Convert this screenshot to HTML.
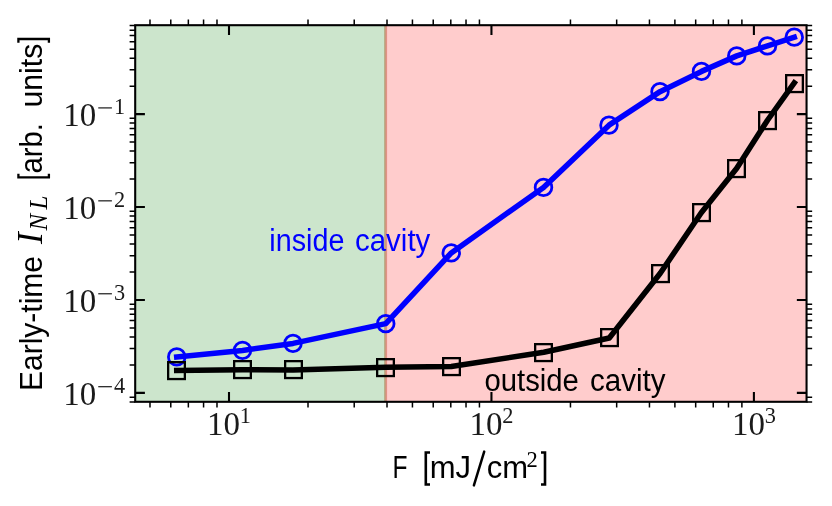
<!DOCTYPE html>
<html><head><meta charset="utf-8"><title>chart</title>
<style>html,body{margin:0;padding:0;background:#fff;overflow:hidden}svg{display:block;will-change:transform}text{font-family:"Liberation Sans",sans-serif}.se{font-family:"Liberation Serif",serif}</style></head>
<body>
<svg width="832" height="506" viewBox="0 0 832 506">
<rect x="0" y="0" width="832" height="506" fill="#ffffff"/>
<rect x="135.2" y="25.2" width="250.30" height="376.60" fill="#cce5cc"/>
<rect x="385.5" y="25.2" width="421.05" height="376.60" fill="#ffcccc"/>
<rect x="384" y="25.2" width="1" height="376.60" fill="#baae8a"/>
<rect x="385" y="25.2" width="1" height="376.60" fill="#cb997e"/>
<rect x="386" y="25.2" width="1" height="376.60" fill="#e09285"/>
<rect x="387" y="25.2" width="1" height="376.60" fill="#fcc6c6"/>
<polyline points="176.75,356.9 242.5,350.4 293,343.4 385.75,323.65 451.25,252.9 543.5,187.4 609,125.15 660,91.65 701.5,71.4 736.75,55.9 767.5,45.9 794.25,37.15" fill="none" stroke="#0000ff" stroke-width="5.56" stroke-linecap="square" stroke-linejoin="round"/>
<circle cx="176.75" cy="356.9" r="8.33" fill="none" stroke="#0000ff" stroke-width="2.78"/>
<circle cx="242.5" cy="350.4" r="8.33" fill="none" stroke="#0000ff" stroke-width="2.78"/>
<circle cx="293" cy="343.4" r="8.33" fill="none" stroke="#0000ff" stroke-width="2.78"/>
<circle cx="385.75" cy="323.65" r="8.33" fill="none" stroke="#0000ff" stroke-width="2.78"/>
<circle cx="451.25" cy="252.9" r="8.33" fill="none" stroke="#0000ff" stroke-width="2.78"/>
<circle cx="543.5" cy="187.4" r="8.33" fill="none" stroke="#0000ff" stroke-width="2.78"/>
<circle cx="609" cy="125.15" r="8.33" fill="none" stroke="#0000ff" stroke-width="2.78"/>
<circle cx="660" cy="91.65" r="8.33" fill="none" stroke="#0000ff" stroke-width="2.78"/>
<circle cx="701.5" cy="71.4" r="8.33" fill="none" stroke="#0000ff" stroke-width="2.78"/>
<circle cx="736.75" cy="55.9" r="8.33" fill="none" stroke="#0000ff" stroke-width="2.78"/>
<circle cx="767.5" cy="45.9" r="8.33" fill="none" stroke="#0000ff" stroke-width="2.78"/>
<circle cx="794.25" cy="37.15" r="8.33" fill="none" stroke="#0000ff" stroke-width="2.78"/>
<polyline points="176.75,370.45 242.5,369.75 293,370.0 385.75,367.25 451.25,366.5 543.75,352.25 609.25,338.0 660.25,273.25 701.25,212.75 736.75,168.25 767.5,120.25 794.25,83.0" fill="none" stroke="#000000" stroke-width="5.56" stroke-linecap="square" stroke-linejoin="round"/>
<rect x="168.15" y="362.15" width="16.7" height="16.9" fill="none" stroke="#000" stroke-width="2.3"/>
<rect x="234.15" y="361.15" width="16.7" height="16.9" fill="none" stroke="#000" stroke-width="2.3"/>
<rect x="285.15" y="361.15" width="16.7" height="16.9" fill="none" stroke="#000" stroke-width="2.3"/>
<rect x="377.15" y="359.15" width="16.7" height="16.9" fill="none" stroke="#000" stroke-width="2.3"/>
<rect x="443.15" y="358.15" width="16.7" height="16.9" fill="none" stroke="#000" stroke-width="2.3"/>
<rect x="535.15" y="344.15" width="16.7" height="16.9" fill="none" stroke="#000" stroke-width="2.3"/>
<rect x="601.15" y="329.15" width="16.7" height="16.9" fill="none" stroke="#000" stroke-width="2.3"/>
<rect x="652.15" y="265.15" width="16.7" height="16.9" fill="none" stroke="#000" stroke-width="2.3"/>
<rect x="693.15" y="204.15" width="16.7" height="16.9" fill="none" stroke="#000" stroke-width="2.3"/>
<rect x="728.15" y="160.15" width="16.7" height="16.9" fill="none" stroke="#000" stroke-width="2.3"/>
<rect x="759.15" y="112.15" width="16.7" height="16.9" fill="none" stroke="#000" stroke-width="2.3"/>
<rect x="786.15" y="75.15" width="16.7" height="16.9" fill="none" stroke="#000" stroke-width="2.3"/>
<g stroke="#000" fill="none"><path d="M229.00 401.8V392.10M229.00 25.2V34.90" stroke-width="2.08"/><path d="M491.45 401.8V392.10M491.45 25.2V34.90" stroke-width="2.08"/><path d="M753.90 401.8V392.10M753.90 25.2V34.90" stroke-width="2.08"/><path d="M149.99 401.8V407.40M149.99 25.2V19.60" stroke-width="1.5"/><path d="M170.78 401.8V407.40M170.78 25.2V19.60" stroke-width="1.5"/><path d="M188.35 401.8V407.40M188.35 25.2V19.60" stroke-width="1.5"/><path d="M203.57 401.8V407.40M203.57 25.2V19.60" stroke-width="1.5"/><path d="M216.99 401.8V407.40M216.99 25.2V19.60" stroke-width="1.5"/><path d="M308.01 401.8V407.40M308.01 25.2V19.60" stroke-width="1.5"/><path d="M354.22 401.8V407.40M354.22 25.2V19.60" stroke-width="1.5"/><path d="M387.01 401.8V407.40M387.01 25.2V19.60" stroke-width="1.5"/><path d="M412.44 401.8V407.40M412.44 25.2V19.60" stroke-width="1.5"/><path d="M433.23 401.8V407.40M433.23 25.2V19.60" stroke-width="1.5"/><path d="M450.80 401.8V407.40M450.80 25.2V19.60" stroke-width="1.5"/><path d="M466.02 401.8V407.40M466.02 25.2V19.60" stroke-width="1.5"/><path d="M479.44 401.8V407.40M479.44 25.2V19.60" stroke-width="1.5"/><path d="M570.46 401.8V407.40M570.46 25.2V19.60" stroke-width="1.5"/><path d="M616.67 401.8V407.40M616.67 25.2V19.60" stroke-width="1.5"/><path d="M649.46 401.8V407.40M649.46 25.2V19.60" stroke-width="1.5"/><path d="M674.89 401.8V407.40M674.89 25.2V19.60" stroke-width="1.5"/><path d="M695.68 401.8V407.40M695.68 25.2V19.60" stroke-width="1.5"/><path d="M713.25 401.8V407.40M713.25 25.2V19.60" stroke-width="1.5"/><path d="M728.47 401.8V407.40M728.47 25.2V19.60" stroke-width="1.5"/><path d="M741.89 401.8V407.40M741.89 25.2V19.60" stroke-width="1.5"/><path d="M135.2 114.11H144.90M806.55 114.11H796.85" stroke-width="2.08"/><path d="M135.2 207.04H144.90M806.55 207.04H796.85" stroke-width="2.08"/><path d="M135.2 299.97H144.90M806.55 299.97H796.85" stroke-width="2.08"/><path d="M135.2 392.90H144.90M806.55 392.90H796.85" stroke-width="2.08"/><path d="M135.2 401.91H129.60M806.55 401.91H812.15" stroke-width="1.5"/><path d="M135.2 397.15H129.60M806.55 397.15H812.15" stroke-width="1.5"/><path d="M135.2 364.93H129.60M806.55 364.93H812.15" stroke-width="1.5"/><path d="M135.2 348.56H129.60M806.55 348.56H812.15" stroke-width="1.5"/><path d="M135.2 336.95H129.60M806.55 336.95H812.15" stroke-width="1.5"/><path d="M135.2 327.94H129.60M806.55 327.94H812.15" stroke-width="1.5"/><path d="M135.2 320.59H129.60M806.55 320.59H812.15" stroke-width="1.5"/><path d="M135.2 314.37H129.60M806.55 314.37H812.15" stroke-width="1.5"/><path d="M135.2 308.98H129.60M806.55 308.98H812.15" stroke-width="1.5"/><path d="M135.2 304.22H129.60M806.55 304.22H812.15" stroke-width="1.5"/><path d="M135.2 272.00H129.60M806.55 272.00H812.15" stroke-width="1.5"/><path d="M135.2 255.63H129.60M806.55 255.63H812.15" stroke-width="1.5"/><path d="M135.2 244.02H129.60M806.55 244.02H812.15" stroke-width="1.5"/><path d="M135.2 235.01H129.60M806.55 235.01H812.15" stroke-width="1.5"/><path d="M135.2 227.66H129.60M806.55 227.66H812.15" stroke-width="1.5"/><path d="M135.2 221.44H129.60M806.55 221.44H812.15" stroke-width="1.5"/><path d="M135.2 216.05H129.60M806.55 216.05H812.15" stroke-width="1.5"/><path d="M135.2 211.29H129.60M806.55 211.29H812.15" stroke-width="1.5"/><path d="M135.2 179.07H129.60M806.55 179.07H812.15" stroke-width="1.5"/><path d="M135.2 162.70H129.60M806.55 162.70H812.15" stroke-width="1.5"/><path d="M135.2 151.09H129.60M806.55 151.09H812.15" stroke-width="1.5"/><path d="M135.2 142.08H129.60M806.55 142.08H812.15" stroke-width="1.5"/><path d="M135.2 134.73H129.60M806.55 134.73H812.15" stroke-width="1.5"/><path d="M135.2 128.51H129.60M806.55 128.51H812.15" stroke-width="1.5"/><path d="M135.2 123.12H129.60M806.55 123.12H812.15" stroke-width="1.5"/><path d="M135.2 118.36H129.60M806.55 118.36H812.15" stroke-width="1.5"/><path d="M135.2 86.14H129.60M806.55 86.14H812.15" stroke-width="1.5"/><path d="M135.2 69.77H129.60M806.55 69.77H812.15" stroke-width="1.5"/><path d="M135.2 58.16H129.60M806.55 58.16H812.15" stroke-width="1.5"/><path d="M135.2 49.15H129.60M806.55 49.15H812.15" stroke-width="1.5"/><path d="M135.2 41.80H129.60M806.55 41.80H812.15" stroke-width="1.5"/><path d="M135.2 35.58H129.60M806.55 35.58H812.15" stroke-width="1.5"/><path d="M135.2 30.19H129.60M806.55 30.19H812.15" stroke-width="1.5"/><path d="M135.2 25.43H129.60M806.55 25.43H812.15" stroke-width="1.5"/></g>
<rect x="135.2" y="25.2" width="671.35" height="376.60" fill="none" stroke="#000" stroke-width="2.08" stroke-linejoin="miter"/>
<text x="269.3" y="250.75" font-size="31" fill="#0000ff" textLength="75.1" lengthAdjust="spacingAndGlyphs">inside</text>
<text x="355.0" y="250.75" font-size="31" fill="#0000ff" textLength="75.3" lengthAdjust="spacingAndGlyphs">cavity</text>
<text x="484.5" y="390.5" font-size="31" fill="#000" textLength="94.3" lengthAdjust="spacingAndGlyphs">outside</text>
<text x="590.0" y="390.5" font-size="31" fill="#000" textLength="75.5" lengthAdjust="spacingAndGlyphs">cavity</text>
<text class="se" x="207.10" y="435.25" font-size="33" fill="#1a1a1a">10</text>
<text class="se" x="239.80" y="422.75" font-size="22.3" fill="#1a1a1a">1</text>
<text class="se" x="469.55" y="435.25" font-size="33" fill="#1a1a1a">10</text>
<text class="se" x="502.25" y="422.75" font-size="22.3" fill="#1a1a1a">2</text>
<text class="se" x="732.00" y="435.25" font-size="33" fill="#1a1a1a">10</text>
<text class="se" x="764.70" y="422.75" font-size="22.3" fill="#1a1a1a">3</text>
<text class="se" x="63.3" y="126.25" font-size="33" fill="#1a1a1a">10</text>
<path d="M98.25 107.90H111.9" stroke="#222" stroke-width="1.25" fill="none"/>
<text class="se" x="114.0" y="114.00" font-size="22.3" fill="#1a1a1a">1</text>
<text class="se" x="63.3" y="219.18" font-size="33" fill="#1a1a1a">10</text>
<path d="M98.25 200.83H111.9" stroke="#222" stroke-width="1.25" fill="none"/>
<text class="se" x="114.0" y="206.93" font-size="22.3" fill="#1a1a1a">2</text>
<text class="se" x="63.3" y="312.11" font-size="33" fill="#1a1a1a">10</text>
<path d="M98.25 293.76H111.9" stroke="#222" stroke-width="1.25" fill="none"/>
<text class="se" x="114.0" y="299.86" font-size="22.3" fill="#1a1a1a">3</text>
<text class="se" x="63.3" y="405.04" font-size="33" fill="#1a1a1a">10</text>
<path d="M98.25 386.69H111.9" stroke="#222" stroke-width="1.25" fill="none"/>
<text class="se" x="114.0" y="392.79" font-size="22.3" fill="#1a1a1a">4</text>
<text x="392.6" y="477.5" font-size="31" fill="#000" textLength="15" lengthAdjust="spacingAndGlyphs">F</text>
<path d="M430 452.5H425.8V484.5H430" fill="none" stroke="#000" stroke-width="2.6"/>
<text x="429.75" y="477.5" font-size="31" fill="#000">mJ</text>
<path d="M473.9 485.4L484.2 451.6" fill="none" stroke="#000" stroke-width="2.5" stroke-linecap="round"/>
<text x="486.8" y="477.5" font-size="31" fill="#000">cm</text>
<text class="se" x="526.5" y="467" font-size="22.5" fill="#000">2</text>
<path d="M541 452.5H545V484.5H541" fill="none" stroke="#000" stroke-width="2.6"/>
<text transform="translate(42.25,391) rotate(-90)" font-size="31" fill="#000" textLength="135" lengthAdjust="spacingAndGlyphs">Early-time</text>
<text class="se" transform="translate(42.25,244) rotate(-90)" font-size="35" fill="#000" font-style="italic">I</text>
<text class="se" transform="translate(47.25,230.5) rotate(-90)" font-size="25" fill="#000" font-style="italic">N</text>
<text class="se" transform="translate(47.25,209.5) rotate(-90)" font-size="25" fill="#000" font-style="italic">L</text>
<path d="M18.4 173.8V177.4H48.9V173.8" fill="none" stroke="#000" stroke-width="2.3"/>
<text transform="translate(42.25,173.5) rotate(-90)" font-size="31" fill="#000" textLength="50.5" lengthAdjust="spacingAndGlyphs">arb.</text>
<text transform="translate(42.25,107.5) rotate(-90)" font-size="31" fill="#000" textLength="63.8" lengthAdjust="spacingAndGlyphs">units</text>
<path d="M18.4 42.7V39H48.9V42.7" fill="none" stroke="#000" stroke-width="2.3"/>
</svg>
</body></html>
